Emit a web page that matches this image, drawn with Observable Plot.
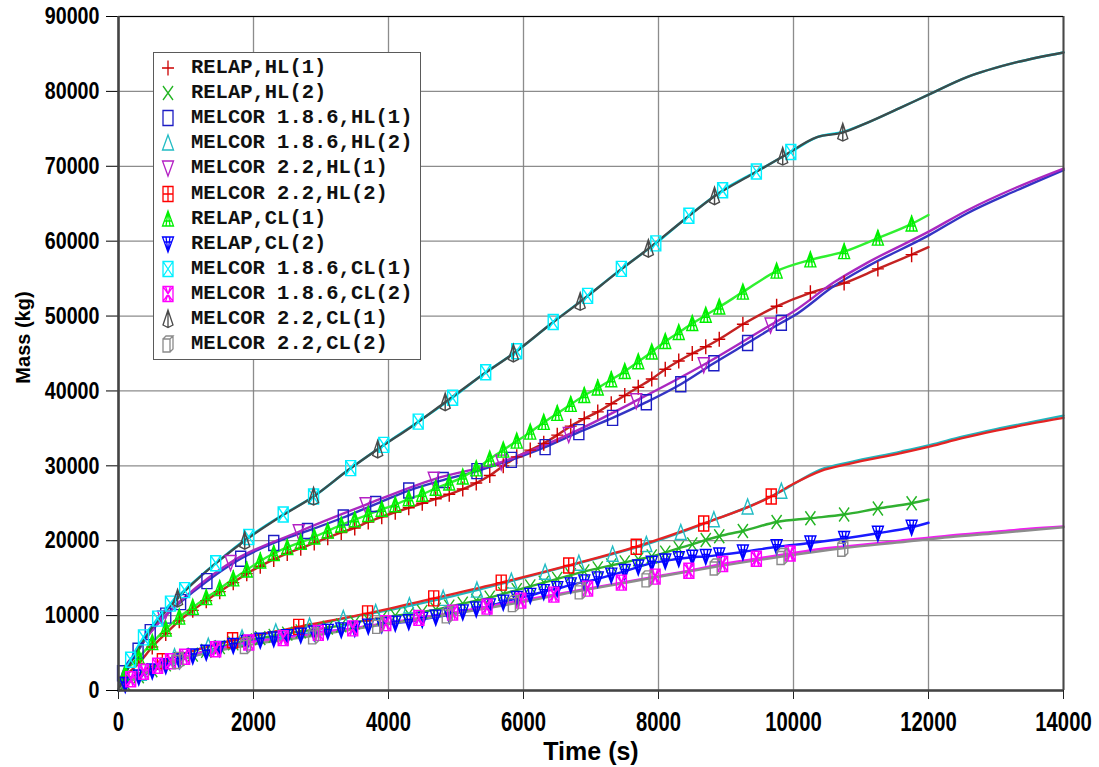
<!DOCTYPE html>
<html>
<head>
<meta charset="utf-8">
<script src="https://cdn.jsdelivr.net/npm/d3@7"></script>
<script src="https://cdn.jsdelivr.net/npm/@observablehq/plot@0.6"></script>
<style>
  html, body { margin: 0; padding: 0; background: #fff; }
  #wrap { position: relative; width: 1099px; height: 767px; overflow: hidden; }
  #legend { position: absolute; left: 153px; top: 52px; width: 268px; height: 308px;
            border: 1.5px solid #5a5a5a; background: #fff; box-sizing: border-box; }
  .row { position: absolute; left: 0; height: 24px; display: flex; align-items: center; }
  .row svg { display: block; margin-left: 2px; }
  .row span { position: absolute; left: 37px; white-space: pre;
              font-family: "Liberation Mono", "DejaVu Sans Mono", monospace; font-weight: bold;
              font-size: 20.5px; color: #111; line-height: 24px; top: 0; }
</style>
</head>
<body>
<div id="wrap"></div>
<script>
// ---------------- data ----------------
const xTicks = [0, 2000, 4000, 6000, 8000, 10000, 12000, 14000];
const yTicks = [0, 10000, 20000, 30000, 40000, 50000, 60000, 70000, 80000, 90000];

// RELAP output times (s)
const RELAP_T = [0,100,300,500,700,900,1100,1300,1500,1700,1900,2100,2300,2500,2700,2900,3100,3300,3500,3700,3900,
  4100,4300,4500,4700,4900,5100,5300,5500,5700,5900,6100,6300,6500,6700,6900,7100,7300,7500,7700,7900,
  8100,8300,8500,8700,8900,9250,9750,10250,10750,11250,11750,12000];
const RELAP_HL1 = [0,1800,3600,5800,7600,9300,10700,12000,13200,14400,15600,16600,17500,18300,19000,19700,20400,21100,21700,22500,23200,
  23800,24400,25000,25600,26200,26900,27700,28700,30000,31200,32100,33000,34100,35300,36300,37200,38300,39400,40500,41600,
  42900,44000,45000,45900,46900,48900,51300,53100,54400,56300,58200,59200];
const RELAP_HL2 = [0,900,1900,2700,3500,4200,4800,5300,5800,6300,6700,7000,7300,7600,7900,8100,8400,8700,9100,9400,9700,
  10000,10200,10500,10800,11200,11600,12000,12400,12900,13400,13900,14400,14900,15400,15900,16300,16700,17100,17500,17900,
  18400,19000,19500,20100,20600,21300,22500,23000,23500,24300,25000,25500];
const RELAP_CL1 = [0,2300,4400,6400,8200,9800,11100,12400,13600,14900,16100,17300,18300,19100,19800,20500,21300,22100,22800,23500,24200,
  24800,25600,26200,27000,27700,28500,29600,30900,32100,33300,34500,35800,37000,38200,39400,40400,41500,42600,43900,45200,
  46600,47800,49000,50100,51200,53200,56000,57500,58600,60400,62300,63500];
const RELAP_CL2 = [0,800,1800,2600,3300,4000,4600,5100,5600,6000,6400,6700,6900,7200,7400,7700,7900,8100,8300,8600,8800,
  9000,9200,9500,9800,10100,10500,10900,11300,11800,12300,12700,13200,13600,14100,14500,14900,15400,15900,16500,17000,
  17300,17600,17800,17900,18100,18500,19200,19700,20300,21000,21800,22400];

// MELCOR 1.8.6
const M186_HL1_T = [0,60,290,470,700,920,1310,1810,2300,2800,3330,3810,4300,4810,5310,5820,6320,6820,7320,7820,8330,8820,9320,9820,10000,10600,11090,12010,12570,13310,14000];
const M186_HL1   = [0,2300,5300,7800,10000,11800,14600,17600,19700,21300,23100,24900,26700,28100,29300,30800,32500,34500,36400,38500,40900,43700,46400,49100,50000,54000,56600,60800,63700,66800,69500];
const M186_HL2_T = [0,330,830,1330,1830,2330,2830,3330,3810,4310,4810,5310,5820,6320,6820,7320,7820,8330,8820,9320,9820,10400,10840,11590,12030,12500,13000,13500,14000];
const M186_HL2   = [0,2300,4500,5900,7000,7800,8600,9600,10400,11300,12300,13400,14600,15800,17000,18200,19500,21100,22800,24500,26600,29500,30500,31900,32800,33900,34900,35800,36700];
const M186_CL1_T = [0,180,370,580,770,980,1440,1930,2440,2890,3440,3930,4440,4950,5440,5900,6440,6950,7450,7960,8450,8950,9450,9960,10350,10730,11090,11580,12010,12570,13310,14000];
const M186_CL1   = [0,4100,7100,9600,11600,13400,17000,20500,23500,25900,29700,32800,35900,39100,42500,45300,49200,52700,56300,59700,63400,66800,69300,71900,73900,74600,75800,77800,79600,81900,83900,85200];
const M186_CL2_T = [0,180,370,580,770,980,1440,1930,2440,2960,3470,3960,4450,4950,5460,5960,6450,6950,7450,7950,8450,8950,9450,9950,10400,10840,11580,12330,13000,13500,14000];
const M186_CL2   = [0,1500,2500,3300,3900,4500,5500,6400,7000,7700,8300,9000,9700,10400,11200,12000,12800,13600,14400,15200,16000,16900,17600,18300,18900,19300,20000,20700,21200,21600,21900];

// MELCOR 2.2
const M22_HL1_T = [0,100,300,660,1000,1660,2670,3660,4670,5670,6670,7670,8670,9660,10000,10600,11090,12010,12570,13310,14000];
const M22_HL1   = [0,2500,5600,9700,12600,17100,21200,24800,28200,30500,34200,38700,43500,48800,50600,54500,57100,61300,64100,67200,69700];
const M22_HL1_MK = [660,1660,2670,3660,4670,5670,6670,7670,8670,9660];
const M22_HL2_T = [0,120,300,650,1000,1690,2670,3690,4670,5670,6670,7670,8670,9670,10000,10400,10840,11590,12030,12500,13000,13500,14000];
const M22_HL2   = [0,1100,2200,3900,5000,6700,8500,10300,12300,14400,16700,19200,22300,25900,27600,29300,30300,31700,32600,33700,34700,35600,36400];
const M22_HL2_MK = [650,1690,2670,3690,4670,5670,6670,7670,8670,9670];
const M22_CL1_T = [0,100,250,450,650,875,1200,1500,1870,2400,2890,3400,3840,4400,4840,5400,5850,6400,6840,7400,7850,8400,8830,9400,9840,10350,10730,11090,11580,12010,12570,13310,14000];
const M22_CL1   = [0,2200,4800,7800,10100,12300,15100,17400,20000,23200,25900,29400,32200,35600,38500,42200,45000,48900,51900,55900,59000,63000,66000,69000,71300,73900,74500,75800,77800,79600,81900,83900,85200];
const M22_CL1_MK = [875,1870,2890,3840,4840,5850,6840,7850,8830,9840,10730];
const M22_CL2_T = [0,200,500,880,1300,1880,2890,3840,4870,5850,6840,7830,8840,9830,10730,11580,12330,13000,13500,14000];
const M22_CL2   = [0,1300,2700,4000,5000,6000,7300,8700,10100,11600,13300,14900,16500,17900,19000,19800,20500,21000,21400,21800];
const M22_CL2_MK = [880,1880,2890,3840,4870,5850,6840,7830,8840,9830,10730];

// ---------------- marker shapes ----------------
const SYM = {
  plus(c){ c.moveTo(0,-7.5); c.lineTo(0,7.5); c.moveTo(-6,0); c.lineTo(6,0); },
  cross(c){ c.moveTo(-5,-7); c.lineTo(5,7); c.moveTo(5,-7); c.lineTo(-5,7); },
  rect(c){ c.moveTo(-5,-7.5); c.lineTo(5,-7.5); c.lineTo(5,7.5); c.lineTo(-5,7.5); c.closePath(); },
  tri(c){ c.moveTo(0,-8); c.lineTo(5.5,7); c.lineTo(-5.5,7); c.closePath(); },
  tridown(c){ c.moveTo(-5.5,-7); c.lineTo(5.5,-7); c.lineTo(0,8); c.closePath(); },
  rectplus(c){ SYM.rect(c); c.moveTo(0,-7.5); c.lineTo(0,7.5); c.moveTo(-5,0); c.lineTo(5,0); },
  triA(c){ SYM.tri(c); c.moveTo(0,-8); c.lineTo(-2,7); c.moveTo(0,-8); c.lineTo(2,7); c.moveTo(-3.5,2); c.lineTo(3.5,2); },
  tridownA(c){ SYM.tridown(c); c.moveTo(0,8); c.lineTo(-2,-7); c.moveTo(0,8); c.lineTo(2,-7); c.moveTo(-3.5,-2); c.lineTo(3.5,-2); },
  rectx(c){ SYM.rect(c); c.moveTo(-5,-7.5); c.lineTo(5,7.5); c.moveTo(5,-7.5); c.lineTo(-5,7.5); },
  hourglass(c){ SYM.rect(c); c.moveTo(-5,-7.5); c.lineTo(5,7.5); c.moveTo(5,-7.5); c.lineTo(-5,7.5);
                c.moveTo(-2.5,-7.5); c.lineTo(2.5,7.5); c.moveTo(2.5,-7.5); c.lineTo(-2.5,7.5); },
  pyramid(c){ c.moveTo(0,-9); c.lineTo(-5,6); c.lineTo(0,8.5); c.lineTo(5,6); c.closePath(); c.moveTo(0,-9); c.lineTo(0,8.5); },
  cube(c){ c.moveTo(-5,-5); c.lineTo(2,-5); c.lineTo(2,8); c.lineTo(-5,8); c.closePath();
           c.moveTo(-5,-5); c.lineTo(-2,-8); c.lineTo(5,-8); c.lineTo(2,-5);
           c.moveTo(5,-8); c.lineTo(5,5); c.lineTo(2,8); }
};

const series = [
  {name:"RELAP,HL(1)",        mark:"#cc0000", line:"#c42222", sym:"plus",     t:RELAP_T,    m:RELAP_HL1, until:11750},
  {name:"RELAP,HL(2)",        mark:"#22b422", line:"#30b030", sym:"cross",    t:RELAP_T,    m:RELAP_HL2, until:11750},
  {name:"MELCOR 1.8.6,HL(1)", mark:"#1c1cc4", line:"#3434c4", sym:"rect",     t:M186_HL1_T, m:M186_HL1,  until:9900},
  {name:"MELCOR 1.8.6,HL(2)", mark:"#22bcc4", line:"#22b4bc", sym:"tri",      t:M186_HL2_T, m:M186_HL2,  until:9900},
  {name:"MELCOR 2.2,HL(1)",   mark:"#b420c4", line:"#aa28c0", sym:"tridown",  t:M22_HL1_T,  m:M22_HL1,   at:M22_HL1_MK},
  {name:"MELCOR 2.2,HL(2)",   mark:"#ff0000", line:"#e42424", sym:"rectplus", t:M22_HL2_T,  m:M22_HL2,   at:M22_HL2_MK},
  {name:"RELAP,CL(1)",        mark:"#00f000", line:"#30f030", sym:"triA",     t:RELAP_T,    m:RELAP_CL1, until:11750},
  {name:"RELAP,CL(2)",        mark:"#0000ff", line:"#1a1aff", sym:"tridownA", t:RELAP_T,    m:RELAP_CL2, until:11750},
  {name:"MELCOR 1.8.6,CL(1)", mark:"#00f0ff", line:"#00e4f4", sym:"rectx",    t:M186_CL1_T, m:M186_CL1,  until:9990},
  {name:"MELCOR 1.8.6,CL(2)", mark:"#ff00ff", line:"#f020f0", sym:"hourglass",t:M186_CL2_T, m:M186_CL2,  until:9990},
  {name:"MELCOR 2.2,CL(1)",   mark:"#4a4a4a", line:"#3c4c4c", sym:"pyramid",  t:M22_CL1_T,  m:M22_CL1,   at:M22_CL1_MK},
  {name:"MELCOR 2.2,CL(2)",   mark:"#8a8a8a", line:"#8c8c8c", sym:"cube",     t:M22_CL2_T,  m:M22_CL2,   at:M22_CL2_MK}
];

const symObj = k => ({ draw(ctx){ SYM[k](ctx); } });

const lineMarks = [], dotMarks = [];
for (const s of series) {
  const pts = s.t.map((t, i) => ({t, m: s.m[i]}));
  const mk = pts.filter(p => p.t > 0 && (s.at ? s.at.includes(p.t) : p.t <= s.until));
  lineMarks.push(Plot.line(pts, {x: "t", y: "m", stroke: s.line, strokeWidth: 2.4, curve: "monotone-x"}));
  dotMarks.push(Plot.dot(mk, {x: "t", y: "m", symbol: symObj(s.sym), r: 5, fill: "none", stroke: s.mark, strokeWidth: 1.4}));
}

const sans = '"Liberation Sans", Arial, sans-serif';
const fmt = d3.format("d");

const chart = Plot.plot({
  width: 1099, height: 767,
  marginLeft: 118, marginRight: 36, marginTop: 16, marginBottom: 77,
  x: {domain: [0, 14000]},
  y: {domain: [0, 90000]},
  style: {background: "#fff", color: "#000"},
  marks: [
    Plot.gridX(xTicks, {stroke: "#808080", strokeOpacity: 0.9, strokeWidth: 1.3}),
    Plot.gridY(yTicks, {stroke: "#808080", strokeOpacity: 0.9, strokeWidth: 1.3}),
    ...lineMarks,
    ...dotMarks,
    Plot.ruleX([14000], {stroke: "#484848", strokeWidth: 2}),
    Plot.ruleY([90000], {stroke: "#000", strokeWidth: 1.2}),
    Plot.axisX(xTicks, {tickSize: 9, tickPadding: 12, tickFormat: fmt, label: null, fontSize: 27,
                        fontWeight: "bold", fontFamily: sans, stroke: "#222"}),
    Plot.axisY(yTicks, {tickSize: 12, tickPadding: 7, tickFormat: fmt, label: null, fontSize: 24,
                        fontWeight: "bold", fontFamily: sans, stroke: "#000"}),
    Plot.ruleX([0], {stroke: "#444", strokeWidth: 2.6}),
    Plot.ruleY([0], {stroke: "#444", strokeWidth: 2.6}),
    Plot.text(["Mass (kg)"], {frameAnchor: "left", textAnchor: "middle", lineAnchor: "middle", rotate: -90,
                              dx: -95, dy: -16, fontSize: 20, fontWeight: "bold", fontFamily: sans,
                              fill: "#000", ariaLabel: "ytitle"}),
    Plot.text(["Time (s)"], {frameAnchor: "bottom", textAnchor: "middle", lineAnchor: "middle", dy: 61,
                             fontSize: 25, fontWeight: "bold", fontFamily: sans, fill: "#000", ariaLabel: "xtitle"})
  ]
});

// condense the axis typefaces horizontally (the reference uses a narrow bold face)
function condense(sel, k) {
  chart.querySelectorAll(sel).forEach(t => {
    const tr = t.getAttribute("transform") || "";
    t.setAttribute("transform", tr + ` scale(${k},1)`);
  });
}
condense('g[aria-label="y-axis tick label"] text', 0.82);
condense('g[aria-label="x-axis tick label"] text', 0.75);
condense('g[aria-label="ytitle"] text', 0.74);
condense('g[aria-label="xtitle"] text', 0.86);

const wrap = document.getElementById("wrap");
wrap.appendChild(chart);

// legend box inside the plot
const legend = document.createElement("div");
legend.id = "legend";
series.forEach((s, i) => {
  const row = document.createElement("div");
  row.className = "row";
  row.style.top = (3 + i * 25.1) + "px";
  const p = d3.path(); SYM[s.sym](p);
  row.innerHTML = `<svg width="24" height="24" viewBox="-12 -12 24 24"><path d="${p.toString()}" fill="none" stroke="${s.mark}" stroke-width="1.3"/></svg><span>${s.name}</span>`;
  legend.appendChild(row);
});
wrap.appendChild(legend);
</script>
</body>
</html>
